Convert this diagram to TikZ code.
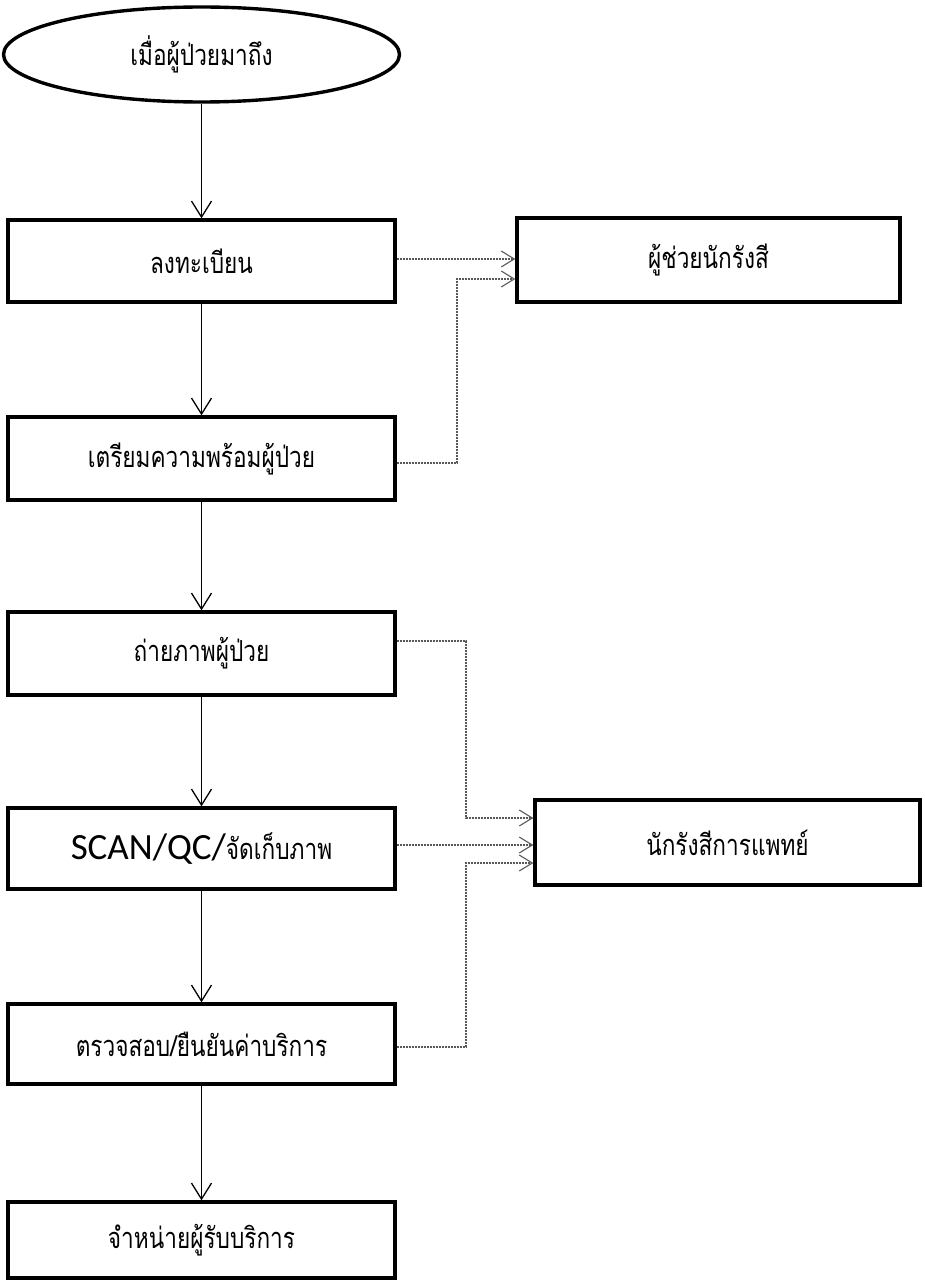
\documentclass[tikz,border=0pt]{standalone}
\usepackage{fontspec}
\setmainfont{Carlito}
\newfontfamily\thai[Script=Thai,FakeStretch=0.78]{Loma}
\usetikzlibrary{arrows.meta,shapes.geometric}
\begin{document}
\begin{tikzpicture}[x=1pt,y=-1pt,
  thaitext/.style={font=\thai\fontsize{29}{34}\selectfont},
  shapeline/.style={draw=black, line width=3.4pt},
  box/.style={shapeline, rectangle, minimum width=387pt, inner sep=0pt, thaitext},
  startnode/.style={shapeline, ellipse, minimum width=396pt, minimum height=95pt, inner sep=0pt, thaitext},
  flow/.style={draw=black, line width=1.3pt, -{Straight Barb[length=16pt,width=20pt]}},
  link/.style={draw=black!65, line width=1.1pt, dash pattern=on 2pt off 1pt, -{Straight Barb[length=13pt,width=16pt]}}
]
\useasboundingbox (0,0) rectangle (925,1287);
\fill[white] (0,0) rectangle (925,1287);

\node[startnode] (start) at (201.5,54.5) {\raisebox{-3pt}{เมื่อผู้ป่วยมาถึง}};
\node[box, minimum height=82pt] (b1) at (201.5,261) {ลงทะเบียน};
\node[box, minimum height=83pt] (b2) at (201.5,458.5) {เตรียมความพร้อมผู้ป่วย};
\node[box, minimum height=83pt] (b3) at (201.5,653.5) {ถ่ายภาพผู้ป่วย};
\node[box, minimum height=81pt] (b4) at (201.5,848.5) {\rmfamily\fontsize{37}{42}\selectfont SCAN/QC/\thai\fontsize{29}{34}\selectfont จัดเก็บภาพ};
\node[box, minimum height=80pt] (b5) at (201.5,1044) {ตรวจสอบ/ยืนยันค่าบริการ};
\node[box, minimum height=76pt] (b6) at (201.5,1240) {จำหน่ายผู้รับบริการ};

\node[box, minimum width=383pt, minimum height=84pt] (r1) at (708.5,260) {ผู้ช่วยนักรังสี};
\node[box, minimum width=385pt, minimum height=85pt] (r2) at (727.5,842.5) {นักรังสีการแพทย์};

\draw[flow] (start) -- (b1);
\draw[flow] (b1) -- (b2);
\draw[flow] (b2) -- (b3);
\draw[flow] (b3) -- (b4);
\draw[flow] (b4) -- (b5);
\draw[flow] (b5) -- (b6);

\coordinate (j1) at (457,279);
\coordinate (j2) at (466,818);
\coordinate (j3) at (466,863);

\draw[link] ([yshift=2pt]b1.east) -- ([yshift=2pt]b1.east -| r1.west);
\draw[link] ([yshift=-4.5pt]b2.east) -| (j1) -- (j1 -| r1.west);
\draw[link] ([yshift=12.5pt]b3.east) -| (j2) -- (j2 -| r2.west);
\draw[link] ([yshift=3.5pt]b4.east) -- ([yshift=3.5pt]b4.east -| r2.west);
\draw[link] ([yshift=-3pt]b5.east) -| (j3) -- (j3 -| r2.west);
\end{tikzpicture}
\end{document}
